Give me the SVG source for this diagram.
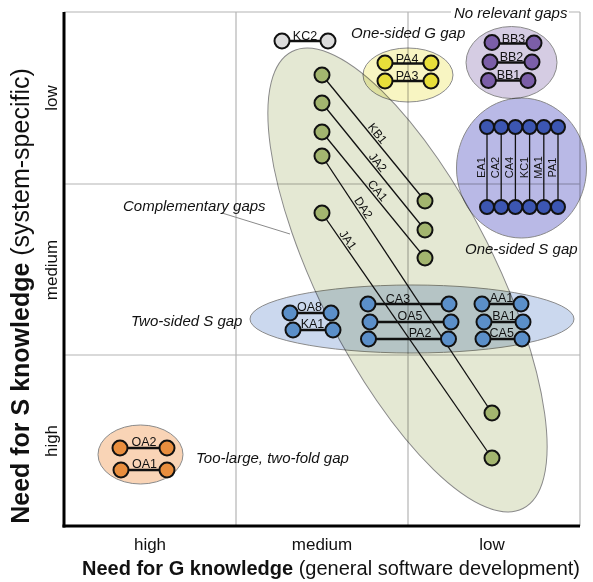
<svg xmlns="http://www.w3.org/2000/svg" width="593" height="582" viewBox="0 0 593 582">
<defs>
<style>
.grid{stroke:#b4b4b4;stroke-width:1.2;fill:none}
.axis{stroke:#000;stroke-width:3;fill:none}
.blob{stroke:#8a8a8a;stroke-width:1;mix-blend-mode:multiply}
.nd{stroke:#111;stroke-width:2}
.pair{stroke:#111;stroke-width:2.6;fill:none}
.thin{stroke:#111;stroke-width:1.3;fill:none}
.lead{stroke:#8a8a8a;stroke-width:1;fill:none}
text{font-family:"Liberation Sans",Arial,Helvetica,sans-serif;fill:#111}
.lb{font-size:12.5px}
.lbs{font-size:11px}
.cap{font-size:15px;font-style:italic}
.tick{font-size:17px}
.axb{font-size:20px}
.axl{font-size:25px}
.b{font-weight:bold}
.gray{fill:#dcdcdc}
.yel{fill:#e8df3a}
.pur{fill:#7b5ea8}
.dbl{fill:#3c56b2}
.grn{fill:#a3b56f}
.mbl{fill:#5b8fc9}
.org{fill:#e98e3e}
</style>
</defs>
<rect x="0" y="0" width="593" height="582" fill="#fff"/>
<g id="grid">
<line class="grid" x1="64" y1="12" x2="580" y2="12"/>
<line class="grid" x1="580" y1="12" x2="580" y2="526"/>
<line class="grid" x1="236" y1="12" x2="236" y2="526"/>
<line class="grid" x1="408" y1="12" x2="408" y2="526"/>
<line class="grid" x1="64" y1="184" x2="580" y2="184"/>
<line class="grid" x1="64" y1="355" x2="580" y2="355"/>
</g>
<g id="regions">
<ellipse class="blob" cx="408" cy="75" rx="45" ry="27" fill="#f8f5c2"/>
<ellipse class="blob" cx="511.5" cy="62.5" rx="45.5" ry="36" fill="#d5cce3"/>
<ellipse class="blob" cx="521.5" cy="168" rx="65" ry="70" fill="#b9b9e6"/>
<ellipse class="blob" cx="412" cy="319" rx="162" ry="34" fill="#cbd8ee"/>
<ellipse class="blob" cx="140.5" cy="454.5" rx="42.5" ry="29.5" fill="#f9d4b6"/>
<ellipse class="blob" cx="407.5" cy="280" rx="256" ry="88" transform="rotate(63.2 407.5 280)" fill="#e4e8d3"/>
</g>
<g id="axes">
<line class="axis" x1="64" y1="12" x2="64" y2="527.5"/>
<line class="axis" x1="62.5" y1="526" x2="580" y2="526"/>
</g>
<g id="connectors">
<line class="pair" x1="282" y1="41" x2="328" y2="41"/>
<line class="pair" x1="385" y1="63.5" x2="431" y2="63.5"/>
<line class="pair" x1="385" y1="81" x2="431" y2="81"/>
<line class="pair" x1="492" y1="43.5" x2="534" y2="43.5"/>
<line class="pair" x1="490" y1="62.5" x2="532" y2="62.5"/>
<line class="pair" x1="488.5" y1="80.5" x2="528" y2="80.5"/>
<line class="thin" x1="487" y1="127" x2="487" y2="207"/>
<line class="thin" x1="501.2" y1="127" x2="501.2" y2="207"/>
<line class="thin" x1="515.4" y1="127" x2="515.4" y2="207"/>
<line class="thin" x1="529.6" y1="127" x2="529.6" y2="207"/>
<line class="thin" x1="543.8" y1="127" x2="543.8" y2="207"/>
<line class="thin" x1="558" y1="127" x2="558" y2="207"/>
<line class="thin" x1="322" y1="75" x2="425" y2="201"/>
<line class="thin" x1="322" y1="103" x2="425" y2="230"/>
<line class="thin" x1="322" y1="132" x2="425" y2="258"/>
<line class="thin" x1="322" y1="156" x2="492" y2="413"/>
<line class="thin" x1="322" y1="213" x2="492" y2="458"/>
<line class="pair" x1="290" y1="313" x2="331" y2="313"/>
<line class="pair" x1="293" y1="330" x2="333" y2="330"/>
<line class="pair" x1="368" y1="304" x2="449" y2="304"/>
<line class="pair" x1="370" y1="322" x2="451" y2="322"/>
<line class="pair" x1="368.5" y1="339" x2="448.5" y2="339"/>
<line class="pair" x1="482" y1="304" x2="521" y2="304"/>
<line class="pair" x1="484" y1="322" x2="523" y2="322"/>
<line class="pair" x1="483" y1="339" x2="522" y2="339"/>
<line class="pair" x1="120" y1="448" x2="167" y2="448"/>
<line class="pair" x1="121" y1="470" x2="167" y2="470"/>
<line class="lead" x1="222" y1="213" x2="290" y2="234"/>
</g>
<g id="nodes">
<g id="KC2-a"><circle class="nd gray" cx="282" cy="41" r="7.5"/></g>
<g id="KC2-b"><circle class="nd gray" cx="328" cy="41" r="7.5"/></g>
<g id="PA4-a"><circle class="nd yel" cx="385" cy="63" r="7.5"/></g>
<g id="PA4-b"><circle class="nd yel" cx="431" cy="63" r="7.5"/></g>
<g id="PA3-a"><circle class="nd yel" cx="385" cy="81" r="7.5"/></g>
<g id="PA3-b"><circle class="nd yel" cx="431" cy="81" r="7.5"/></g>
<g id="BB3-a"><circle class="nd pur" cx="492" cy="42.5" r="7.5"/></g>
<g id="BB3-b"><circle class="nd pur" cx="534" cy="43" r="7.5"/></g>
<g id="BB2-a"><circle class="nd pur" cx="490" cy="62" r="7.5"/></g>
<g id="BB2-b"><circle class="nd pur" cx="532" cy="62" r="7.5"/></g>
<g id="BB1-a"><circle class="nd pur" cx="488.5" cy="80.5" r="7.5"/></g>
<g id="BB1-b"><circle class="nd pur" cx="528" cy="80.5" r="7.5"/></g>
<g id="EA1-a"><circle class="nd dbl" cx="487" cy="127" r="7"/></g>
<g id="CA2-a"><circle class="nd dbl" cx="501.2" cy="127" r="7"/></g>
<g id="CA4-a"><circle class="nd dbl" cx="515.4" cy="127" r="7"/></g>
<g id="KC1-a"><circle class="nd dbl" cx="529.6" cy="127" r="7"/></g>
<g id="MA1-a"><circle class="nd dbl" cx="543.8" cy="127" r="7"/></g>
<g id="PA1-a"><circle class="nd dbl" cx="558" cy="127" r="7"/></g>
<g id="EA1-b"><circle class="nd dbl" cx="487" cy="207" r="7"/></g>
<g id="CA2-b"><circle class="nd dbl" cx="501.2" cy="207" r="7"/></g>
<g id="CA4-b"><circle class="nd dbl" cx="515.4" cy="207" r="7"/></g>
<g id="KC1-b"><circle class="nd dbl" cx="529.6" cy="207" r="7"/></g>
<g id="MA1-b"><circle class="nd dbl" cx="543.8" cy="207" r="7"/></g>
<g id="PA1-b"><circle class="nd dbl" cx="558" cy="207" r="7"/></g>
<g id="KB1-a"><circle class="nd grn" cx="322" cy="75" r="7.5"/></g>
<g id="JA2-a"><circle class="nd grn" cx="322" cy="103" r="7.5"/></g>
<g id="CA1-a"><circle class="nd grn" cx="322" cy="132" r="7.5"/></g>
<g id="DA2-a"><circle class="nd grn" cx="322" cy="156" r="7.5"/></g>
<g id="JA1-a"><circle class="nd grn" cx="322" cy="213" r="7.5"/></g>
<g id="KB1-b"><circle class="nd grn" cx="425" cy="201" r="7.5"/></g>
<g id="JA2-b"><circle class="nd grn" cx="425" cy="230" r="7.5"/></g>
<g id="CA1-b"><circle class="nd grn" cx="425" cy="258" r="7.5"/></g>
<g id="DA2-b"><circle class="nd grn" cx="492" cy="413" r="7.5"/></g>
<g id="JA1-b"><circle class="nd grn" cx="492" cy="458" r="7.5"/></g>
<g id="OA8-a"><circle class="nd mbl" cx="290" cy="313" r="7.5"/></g>
<g id="OA8-b"><circle class="nd mbl" cx="331" cy="313" r="7.5"/></g>
<g id="KA1-a"><circle class="nd mbl" cx="293" cy="330" r="7.5"/></g>
<g id="KA1-b"><circle class="nd mbl" cx="333" cy="330" r="7.5"/></g>
<g id="CA3-a"><circle class="nd mbl" cx="368" cy="304" r="7.5"/></g>
<g id="CA3-b"><circle class="nd mbl" cx="449" cy="304" r="7.5"/></g>
<g id="OA5-a"><circle class="nd mbl" cx="370" cy="322" r="7.5"/></g>
<g id="OA5-b"><circle class="nd mbl" cx="451" cy="322" r="7.5"/></g>
<g id="PA2-a"><circle class="nd mbl" cx="368.5" cy="339" r="7.5"/></g>
<g id="PA2-b"><circle class="nd mbl" cx="448.5" cy="339" r="7.5"/></g>
<g id="AA1-a"><circle class="nd mbl" cx="482" cy="304" r="7.5"/></g>
<g id="AA1-b"><circle class="nd mbl" cx="521" cy="304" r="7.5"/></g>
<g id="BA1-a"><circle class="nd mbl" cx="484" cy="322" r="7.5"/></g>
<g id="BA1-b"><circle class="nd mbl" cx="523" cy="322" r="7.5"/></g>
<g id="CA5-a"><circle class="nd mbl" cx="483" cy="339" r="7.5"/></g>
<g id="CA5-b"><circle class="nd mbl" cx="522" cy="339" r="7.5"/></g>
<g id="OA2-a"><circle class="nd org" cx="120" cy="448" r="7.5"/></g>
<g id="OA2-b"><circle class="nd org" cx="167" cy="448" r="7.5"/></g>
<g id="OA1-a"><circle class="nd org" cx="121" cy="470" r="7.5"/></g>
<g id="OA1-b"><circle class="nd org" cx="167" cy="470" r="7.5"/></g>
</g>
<g id="connector-labels" class="lb">
<text x="305" y="39.5" text-anchor="middle">KC2</text>
<text x="407" y="62.5" text-anchor="middle">PA4</text>
<text x="407" y="79.5" text-anchor="middle">PA3</text>
<text x="513.5" y="43" text-anchor="middle">BB3</text>
<text x="511.5" y="61" text-anchor="middle">BB2</text>
<text x="508.5" y="79" text-anchor="middle">BB1</text>
<text x="309.5" y="311" text-anchor="middle">OA8</text>
<text x="312.5" y="328" text-anchor="middle">KA1</text>
<text x="398" y="302.5" text-anchor="middle">CA3</text>
<text x="410" y="320" text-anchor="middle">OA5</text>
<text x="420" y="337" text-anchor="middle">PA2</text>
<text x="501.5" y="302" text-anchor="middle">AA1</text>
<text x="504" y="319.5" text-anchor="middle">BA1</text>
<text x="501.7" y="337" text-anchor="middle">CA5</text>
<text x="144" y="446" text-anchor="middle">OA2</text>
<text x="144.5" y="468" text-anchor="middle">OA1</text>
<text x="0" y="0" font-size="12" text-anchor="middle" transform="translate(374.4 136) rotate(50.7)">KB1</text>
<text x="0" y="0" font-size="12" text-anchor="middle" transform="translate(374.8 164.8) rotate(51)">JA2</text>
<text x="0" y="0" font-size="12" text-anchor="middle" transform="translate(374.5 193.1) rotate(50.7)">CA1</text>
<text x="0" y="0" font-size="12" text-anchor="middle" transform="translate(360.1 209.9) rotate(56.5)">DA2</text>
<text x="0" y="0" font-size="12" text-anchor="middle" transform="translate(344.7 242.3) rotate(55.2)">JA1</text>
<g class="lbs">
<text x="0" y="0" text-anchor="middle" transform="translate(485 167.5) rotate(-90)">EA1</text>
<text x="0" y="0" text-anchor="middle" transform="translate(499.2 167.5) rotate(-90)">CA2</text>
<text x="0" y="0" text-anchor="middle" transform="translate(513.4 167.5) rotate(-90)">CA4</text>
<text x="0" y="0" text-anchor="middle" transform="translate(527.6 167.5) rotate(-90)">KC1</text>
<text x="0" y="0" text-anchor="middle" transform="translate(541.8 167.5) rotate(-90)">MA1</text>
<text x="0" y="0" text-anchor="middle" transform="translate(556 167.5) rotate(-90)">PA1</text>
</g>
</g>
<g id="captions" class="cap">
<text x="351" y="38">One-sided G gap</text>
<rect x="451" y="5" width="118" height="15" fill="#fff"/>
<text x="454" y="18">No relevant gaps</text>
<text x="465" y="254">One-sided S gap</text>
<text x="123" y="210.5">Complementary gaps</text>
<text x="131" y="325.5">Two-sided S gap</text>
<text x="196" y="463">Too-large, two-fold gap</text>
</g>
<g id="axis-labels">
<text class="tick" x="150" y="550" text-anchor="middle">high</text>
<text class="tick" x="322" y="550" text-anchor="middle">medium</text>
<text class="tick" x="492" y="550" text-anchor="middle">low</text>
<text class="tick" x="0" y="0" text-anchor="middle" transform="translate(57 98) rotate(-90)">low</text>
<text class="tick" x="0" y="0" text-anchor="middle" transform="translate(57 270) rotate(-90)">medium</text>
<text class="tick" x="0" y="0" text-anchor="middle" transform="translate(57 441) rotate(-90)">high</text>
<text class="axb" x="331" y="575" text-anchor="middle"><tspan class="b">Need for G knowledge</tspan> (general software development)</text>
<text class="axl" x="0" y="0" text-anchor="middle" transform="translate(29 296) rotate(-90)"><tspan class="b">Need for S knowledge</tspan> (system-specific)</text>
</g>
</svg>
